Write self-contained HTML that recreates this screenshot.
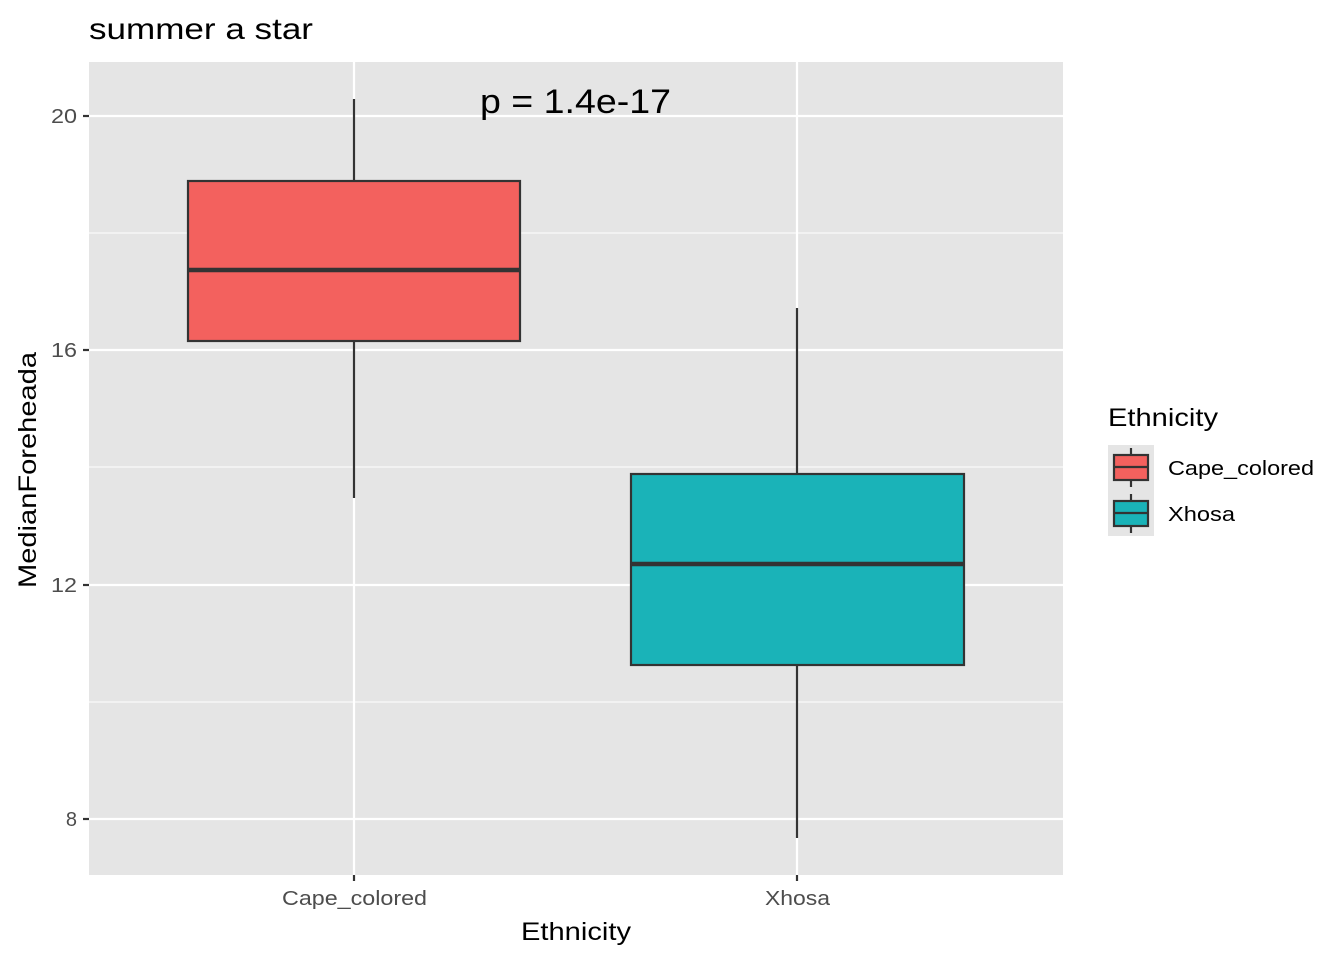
<!DOCTYPE html>
<html><head><meta charset="utf-8"><style>body{margin:0;background:#fff}</style></head><body>
<svg width="1344" height="960" xmlns="http://www.w3.org/2000/svg" font-family="Liberation Sans, Arial, sans-serif">
<rect width="1344" height="960" fill="#fff"/>
<rect x="89" y="62" width="974" height="813" fill="#e5e5e5"/>
<g stroke="#fff" stroke-width="1.1">
<line x1="89" x2="1063" y1="233" y2="233"/><line x1="89" x2="1063" y1="467" y2="467"/><line x1="89" x2="1063" y1="702" y2="702"/>
</g>
<g stroke="#fff" stroke-width="2.2">
<line x1="89" x2="1063" y1="116" y2="116"/><line x1="89" x2="1063" y1="350" y2="350"/><line x1="89" x2="1063" y1="585" y2="585"/><line x1="89" x2="1063" y1="819" y2="819"/>
<line x1="354" x2="354" y1="62" y2="875"/><line x1="797" x2="797" y1="62" y2="875"/>
</g>
<g stroke="#333" stroke-width="2.2">
<line x1="354" x2="354" y1="99" y2="181"/><line x1="354" x2="354" y1="341" y2="498"/>
<rect x="188" y="181" width="332" height="160" fill="#f3615e"/>
<line x1="188" x2="520" y1="270" y2="270" stroke-width="4.4"/>
<line x1="797" x2="797" y1="308" y2="474"/><line x1="797" x2="797" y1="665" y2="838"/>
<rect x="631" y="474" width="333" height="191" fill="#1ab3b8"/>
<line x1="631" x2="964" y1="564" y2="564" stroke-width="4.4"/>
</g>
<text x="480" y="113" font-size="34" textLength="191" lengthAdjust="spacingAndGlyphs" fill="#000">p = 1.4e-17</text>
<g stroke="#333" stroke-width="2.2">
<line x1="83" x2="89" y1="116" y2="116"/><line x1="83" x2="89" y1="350" y2="350"/><line x1="83" x2="89" y1="585" y2="585"/><line x1="83" x2="89" y1="819" y2="819"/>
<line x1="354" x2="354" y1="875" y2="881"/><line x1="797" x2="797" y1="875" y2="881"/>
</g>
<g font-size="20" fill="#4d4d4d" text-anchor="end">
<text x="77" y="123" textLength="26" lengthAdjust="spacingAndGlyphs">20</text><text x="77" y="357" textLength="26" lengthAdjust="spacingAndGlyphs">16</text><text x="77" y="592" textLength="26" lengthAdjust="spacingAndGlyphs">12</text><text x="77" y="826">8</text>
</g>
<g font-size="20" fill="#4d4d4d">
<text x="282" y="905" textLength="145" lengthAdjust="spacingAndGlyphs">Cape_colored</text><text x="765" y="905" textLength="65" lengthAdjust="spacingAndGlyphs">Xhosa</text>
</g>
<text x="521" y="940" font-size="25" textLength="110" lengthAdjust="spacingAndGlyphs">Ethnicity</text>
<text transform="translate(36,588) rotate(-90)" font-size="25" textLength="236" lengthAdjust="spacingAndGlyphs">MedianForeheada</text>
<text x="89" y="39" font-size="30" textLength="224" lengthAdjust="spacingAndGlyphs">summer a star</text>
<text x="1108" y="426" font-size="25" textLength="110" lengthAdjust="spacingAndGlyphs">Ethnicity</text>
<rect x="1108" y="445" width="46" height="91" fill="#e5e5e5"/>
<g stroke="#333" stroke-width="2.2">
<line x1="1131" x2="1131" y1="448" y2="455"/><line x1="1131" x2="1131" y1="480" y2="487"/>
<rect x="1114" y="455" width="34" height="25" fill="#f3615e"/><line x1="1114" x2="1148" y1="467" y2="467"/>
<line x1="1131" x2="1131" y1="494" y2="501"/><line x1="1131" x2="1131" y1="526" y2="533"/>
<rect x="1114" y="501" width="34" height="25" fill="#1ab3b8"/><line x1="1114" x2="1148" y1="513" y2="513"/>
</g>
<g font-size="20" fill="#000"><text x="1168" y="475" textLength="146" lengthAdjust="spacingAndGlyphs">Cape_colored</text><text x="1168" y="521" textLength="67" lengthAdjust="spacingAndGlyphs">Xhosa</text></g>
</svg>
</body></html>
